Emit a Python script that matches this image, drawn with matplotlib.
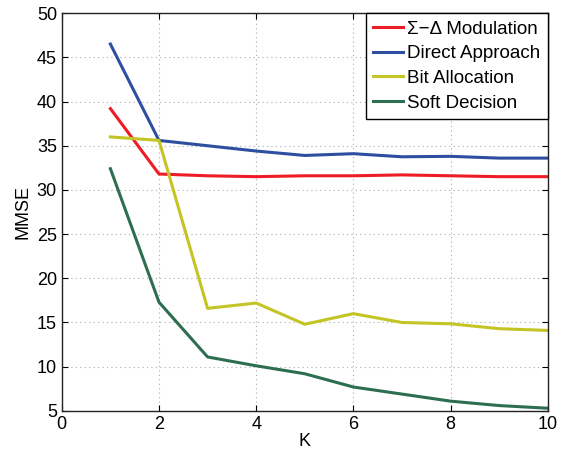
import matplotlib.pyplot as plt

plt.rcParams['font.family'] = ['Liberation Sans', 'DejaVu Sans']

K = [1, 2, 3, 4, 5, 6, 7, 8, 9, 10]
sigma_delta = [39.2, 31.8, 31.6, 31.5, 31.6, 31.6, 31.7, 31.6, 31.5, 31.5]
direct = [46.5, 35.6, 35.0, 34.4, 33.9, 34.1, 33.75, 33.8, 33.6, 33.6]
bit_alloc = [36.0, 35.6, 16.6, 17.2, 14.8, 16.0, 15.0, 14.85, 14.3, 14.1]
soft = [32.4, 17.3, 11.1, 10.1, 9.2, 7.7, 6.9, 6.1, 5.6, 5.3]

labels = ['\u03a3\u2212\u0394 Modulation', 'Direct Approach', 'Bit Allocation', 'Soft Decision']
colors = ['#ee1c24', '#2e4ea0', '#c4c424', '#2e6e50']

fig = plt.figure(figsize=(5.67, 4.54), dpi=100)
ax = fig.add_axes([0.109, 0.095, 0.857, 0.876])

for y, lbl, c in zip([sigma_delta, direct, bit_alloc, soft], labels, colors):
    ax.plot(K, y, color=c, lw=2.2, label=lbl)

ax.set_xlim(0, 10)
ax.set_ylim(5, 50)
ax.set_xticks(range(0, 11, 2))
ax.set_yticks(range(5, 51, 5))
ax.grid(True, ls=(0, (1, 3)), color='#aaaaaa', lw=0.8)
ax.tick_params(direction='in', labelsize=13, top=True, right=True, length=4)
for s in ax.spines.values():
    s.set_linewidth(1.0)
    s.set_color('#222222')
ax.set_xlabel('K', fontsize=13, labelpad=0)
ax.set_ylabel('MMSE', fontsize=13, labelpad=4)

leg = ax.legend(loc='upper right', fontsize=13.5, fancybox=False, framealpha=1,
                edgecolor='black', borderaxespad=0, handlelength=1.6,
                handletextpad=0.2, labelspacing=0.4, borderpad=0.4)
leg.get_frame().set_linewidth(1.0)

fig.savefig('out.png', dpi=100)
